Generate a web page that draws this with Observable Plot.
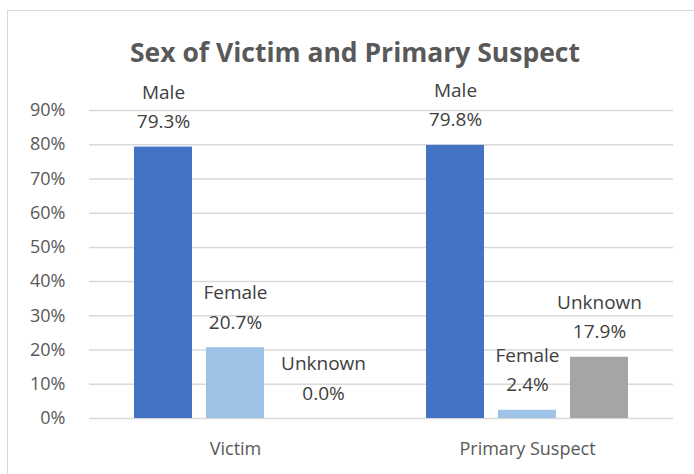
<!DOCTYPE html>
<html>
<head>
<meta charset="utf-8">
<script src="https://cdn.jsdelivr.net/npm/d3@7"></script>
<script src="https://cdn.jsdelivr.net/npm/@observablehq/plot@0.6"></script>
<style>
  html, body { margin: 0; padding: 0; background: #fff; overflow: hidden; }
  #wrap { position: relative; width: 694px; height: 474px; font-family: "Open Sans", sans-serif; }
  #frame { position: absolute; left: 7px; top: 10px; right: 0px; bottom: -5px; border-left: 1.5px solid #d9d9d9; border-top: 1.5px solid #d9d9d9; }
  #title { position: absolute; left: 0; top: 34px; width: 710px; text-align: center; font-size: 26.5px; font-weight: bold; color: #595959; font-family: "Open Sans", sans-serif; white-space: nowrap; }
  #chart { position: absolute; left: 0; top: 0; }
</style>
</head>
<body>
<div id="wrap">
  <div id="frame"></div>
  <div id="chart"></div>
  <div id="title">Sex of Victim and Primary Suspect</div>
</div>
<script>
const groups = ["Victim", "Primary Suspect"];
const sexes = ["Male", "Female", "Unknown"];
const victimValues = [79.3, 20.7, 0.0];
const suspectValues = [79.8, 2.4, 17.9];
const yTicks = [0, 10, 20, 30, 40, 50, 60, 70, 80, 90];
const colors = ["#4472C4", "#9DC3E6", "#A5A5A5"];

const data = [];
sexes.forEach((s, i) => data.push({group: groups[0], sex: s, value: victimValues[i]}));
sexes.forEach((s, i) => data.push({group: groups[1], sex: s, value: suspectValues[i]}));

// the zero-height label sits slightly to the right in the reference
const isZero = d => d.value === 0;
const labelText = d => d.sex + "\n" + d.value.toFixed(1) + "%";
const labelOpts = {
  fx: "group", x: "sex", y: "value", text: labelText,
  lineAnchor: "bottom", lineHeight: 1.55, dy: -19,
  fontSize: 19, fill: "#404040"
};

const chart = Plot.plot({
  width: 694,
  height: 474,
  marginTop: 110,
  marginBottom: 56,
  marginLeft: 88,
  marginRight: 21,
  style: {fontFamily: "'Open Sans', sans-serif", background: "transparent"},
  fx: {domain: groups, padding: 0, axis: null},
  x: {domain: sexes, paddingInner: 0.19, paddingOuter: 0.6, axis: null},
  y: {domain: [0, 90], axis: null},
  color: {domain: sexes, range: colors},
  marks: [
    Plot.gridY(yTicks, {stroke: "#d9d9d9", strokeOpacity: 1, strokeWidth: 1.5}),
    Plot.axisY(yTicks, {tickSize: 0, tickPadding: 24, tickFormat: d => d + "%", fontSize: 18, fill: "#595959", label: null}),
    Plot.axisFx({tickSize: 0, tickPadding: 24, fontSize: 18, fill: "#595959", label: null, anchor: "bottom"}),
    Plot.barY(data, {fx: "group", x: "sex", y: "value", fill: "sex"}),
    Plot.text(data.filter(d => !isZero(d)), labelOpts),
    Plot.text(data.filter(isZero), {...labelOpts, dx: 16})
  ]
});
document.getElementById("chart").append(chart);
</script>
</body>
</html>
